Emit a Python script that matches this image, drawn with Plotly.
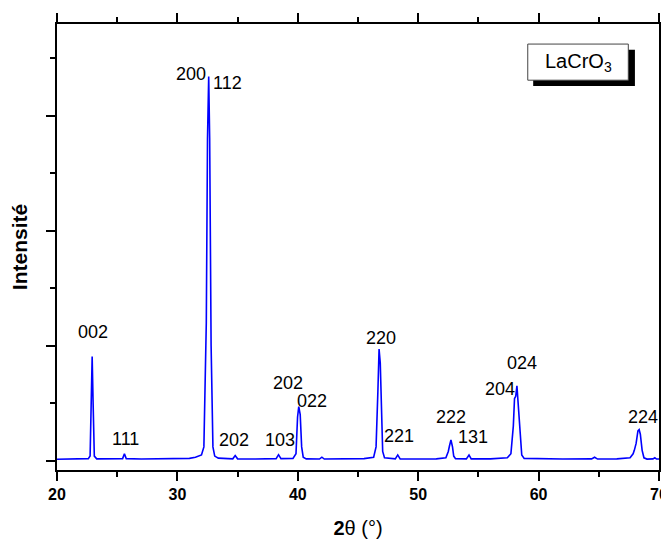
import plotly.graph_objects as go

# XRD pattern: 2theta (deg) and intensity (a.u.)
two_theta = [20.0, 21.0, 22.0, 22.6, 22.75, 22.85, 22.92, 23.0, 23.1, 23.3,
             24.5, 25.45, 25.6, 25.75, 27.0, 29.0, 31.0, 31.5, 31.75, 32.0,
             32.2, 32.4, 32.5, 32.6, 32.68, 32.8, 32.95, 33.1, 33.4, 34.6,
             34.8, 35.0, 36.5, 38.2, 38.4, 38.6, 39.6, 39.85, 39.98, 40.08,
             40.2, 40.32, 40.45, 40.7, 41.8, 42.0, 42.2, 44.0, 45.5, 46.3,
             46.5, 46.65, 46.75, 46.85, 46.95, 47.05, 47.2, 48.1, 48.3, 48.5,
             50.0, 51.5, 52.3, 52.5, 52.6, 52.72, 52.85, 52.95, 53.1, 54.0,
             54.22, 54.4, 56.0, 57.4, 57.7, 57.9, 58.0, 58.1, 58.2, 58.3,
             58.45, 58.6, 58.8, 60.0, 62.0, 64.4, 64.65, 64.9, 66.5, 67.6,
             67.85, 67.95, 68.1, 68.25, 68.35, 68.45, 68.6, 68.75, 69.0, 69.5,
             69.65, 69.8, 70.0]
intensity = [12, 14, 15, 18, 40, 500, 905, 500, 40, 16,
             14, 18, 60, 18, 14, 16, 20, 30, 40, 50,
             120, 1200, 2800, 3340, 2800, 1000, 120, 40, 22, 16,
             45, 16, 14, 18, 52, 18, 20, 60, 380, 470,
             400, 120, 30, 16, 14, 30, 14, 14, 18, 30,
             120, 600, 970, 850, 400, 80, 25, 16, 50, 16,
             14, 16, 25, 80, 130, 180, 120, 40, 18, 16,
             50, 16, 16, 25, 60, 300, 540, 560, 650, 500,
             200, 50, 20, 16, 14, 16, 30, 14, 16, 25,
             60, 90, 150, 260, 270, 230, 90, 25, 14, 16,
             25, 14, 14]

# Miller index labels and their positions
peak_labels = ["002", "111", "200", "112", "202", "103", "202", "022", "220",
               "221", "222", "131", "204", "024", "224"]
label_x = [22.95, 25.69, 31.15, 34.13, 34.74, 38.53, 39.17, 41.19, 46.91,
           48.38, 52.72, 54.57, 56.81, 58.59, 68.63]
label_y = [1122, 186, 3363, 3282, 180, 180, 678, 519, 1064,
           217, 377, 209, 621, 847, 377]

x_ticks = [20, 30, 40, 50, 60, 70]

fig = go.Figure()
fig.add_trace(go.Scatter(x=two_theta, y=intensity, mode="lines",
                         line=dict(color="#0000FF", width=1.6),
                         showlegend=False, hoverinfo="x+y"))

for t, xv, yv in zip(peak_labels, label_x, label_y):
    fig.add_annotation(x=xv, y=yv, text=t, showarrow=False,
                       font=dict(family="Liberation Sans, Arial", size=18, color="black"),
                       xanchor="center", yanchor="middle")

# Sample label box with shadow
fig.add_shape(type="rect", xref="paper", yref="paper", x0=0.791, x1=0.960, y0=0.861, y1=0.942,
              fillcolor="black", line=dict(width=0))
fig.add_shape(type="rect", xref="paper", yref="paper", x0=0.782, x1=0.949, y0=0.874, y1=0.955,
              fillcolor="white", line=dict(color="#444", width=1))
fig.add_annotation(xref="paper", yref="paper", x=0.8655, y=0.913, text="LaCrO<sub>3</sub>",
                   showarrow=False, font=dict(family="Liberation Sans, Arial", size=20, color="black"),
                   xanchor="center", yanchor="middle")

axis_common = dict(showline=True, linecolor="black", linewidth=2, mirror="ticks",
                   ticks="outside", tickwidth=2, tickcolor="black", ticklen=9,
                   showgrid=False, zeroline=False, automargin=False)

fig.update_layout(
    width=661, height=532,
    margin=dict(l=49, r=10, t=16, b=70),
    paper_bgcolor="white", plot_bgcolor="white",
    font=dict(family="Liberation Sans, Arial", color="black"),
    xaxis=dict(range=[20, 70], tickvals=x_ticks,
               tickfont=dict(size=16, family="Liberation Sans, Arial", weight="bold"),
               minor=dict(ticks="outside", dtick=5, ticklen=5, tickwidth=2, tickcolor="black"),
               title=dict(text="<b>2</b>θ (°)", font=dict(size=20), standoff=19),
               **axis_common),
    yaxis=dict(range=[-81, 3797], dtick=1000, tick0=0, showticklabels=False,
               minor=dict(ticks="outside", dtick=500, ticklen=5, tickwidth=2, tickcolor="black"),
               title=dict(text="<b>Intensité</b>", font=dict(size=21), standoff=14),
               **axis_common),
)

fig.write_html("out.html")
